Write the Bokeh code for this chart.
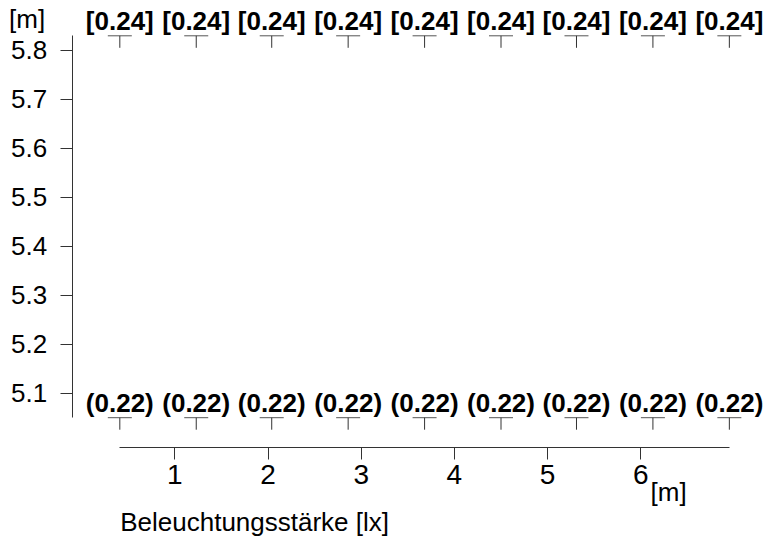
import math
from bokeh.plotting import figure
from bokeh.models import FixedTicker, Label, Range1d, ColumnDataSource
from bokeh.core.properties import value
from bokeh.embed import file_html
from bokeh.resources import INLINE

# ---- data ----
x_pos = [0.41, 1.23, 2.04, 2.86, 3.68, 4.50, 5.31, 6.13, 6.95]
top_y = 5.83
bottom_y = 5.05
top_values = [0.24, 0.24, 0.24, 0.24, 0.24, 0.24, 0.24, 0.24, 0.24]
bottom_values = [0.22, 0.22, 0.22, 0.22, 0.22, 0.22, 0.22, 0.22, 0.22]
x_ticks = [1, 2, 3, 4, 5, 6]
y_ticks = [5.1, 5.2, 5.3, 5.4, 5.5, 5.6, 5.7, 5.8]
x_unit_label = "[m]"
y_unit_label = "[m]"
x_title = "Beleuchtungsstärke [lx]"

FONT = "Liberation Sans"

top_src = ColumnDataSource(dict(
    x=x_pos, y=[top_y] * len(x_pos),
    label=["[%.2f]" % v for v in top_values]))
bot_src = ColumnDataSource(dict(
    x=x_pos, y=[bottom_y] * len(x_pos),
    label=["(%.2f)" % v for v in bottom_values]))

p = figure(width=767, height=542,
           x_range=Range1d(-0.8702, 7.3594),
           y_range=Range1d(4.7951, 5.9021),
           output_backend="svg", toolbar_location=None,
           min_border_left=0, min_border_right=0,
           min_border_top=0, min_border_bottom=0)
p.xgrid.visible = False
p.ygrid.visible = False
p.outline_line_color = None
p.background_fill_color = "white"
p.border_fill_color = "white"

for ax, ticks, bnds in ((p.xaxis[0], x_ticks, (x_pos[0], x_pos[-1])),
                        (p.yaxis[0], y_ticks, (bottom_y, top_y))):
    ax.ticker = FixedTicker(ticks=ticks)
    ax.bounds = bnds
    ax.major_tick_out = 12
    ax.major_tick_in = 0
    ax.minor_tick_out = 0
    ax.minor_tick_in = 0
    ax.axis_line_color = "#333333"
    ax.major_tick_line_color = "#333333"
    ax.major_label_text_font = FONT
    ax.major_label_text_color = "black"

# axes detached from the data, as in the reference
p.xaxis.fixed_location = 4.9897
p.yaxis.fixed_location = -0.1009
p.xaxis.major_label_text_font_size = "28px"
p.yaxis.major_label_text_font_size = "26px"
p.xaxis.major_label_standoff = 6
p.yaxis.major_label_standoff = 13

for src in (top_src, bot_src):
    p.scatter("x", "y", source=src, marker="dash", size=24,
              line_color="#555555", line_width=1)
    p.ray("x", "y", source=src, length=12, length_units="screen",
          angle=-math.pi / 2, line_color="#333333", line_width=1)
    p.text("x", "y", text="label", source=src, text_align="center",
           text_baseline="alphabetic", y_offset=-15,
           text_font=value(FONT), text_font_style="bold",
           text_font_size="26px", text_color="black")

p.add_layout(Label(x=-0.7790, y=5.8643, text=y_unit_label, text_align="left",
                   text_baseline="alphabetic", text_font=FONT,
                   text_font_size="26px", text_color="black"))
p.add_layout(Label(x=6.1041, y=4.8992, text=x_unit_label, text_align="left",
                   text_baseline="alphabetic", text_font=FONT,
                   text_font_size="26px", text_color="black"))
p.add_layout(Label(x=0.4142, y=4.8365, text=x_title, text_align="left",
                   text_baseline="alphabetic", text_font=FONT,
                   text_font_size="26px", text_color="black"))

open("out.html", "w").write(file_html(p, INLINE))
